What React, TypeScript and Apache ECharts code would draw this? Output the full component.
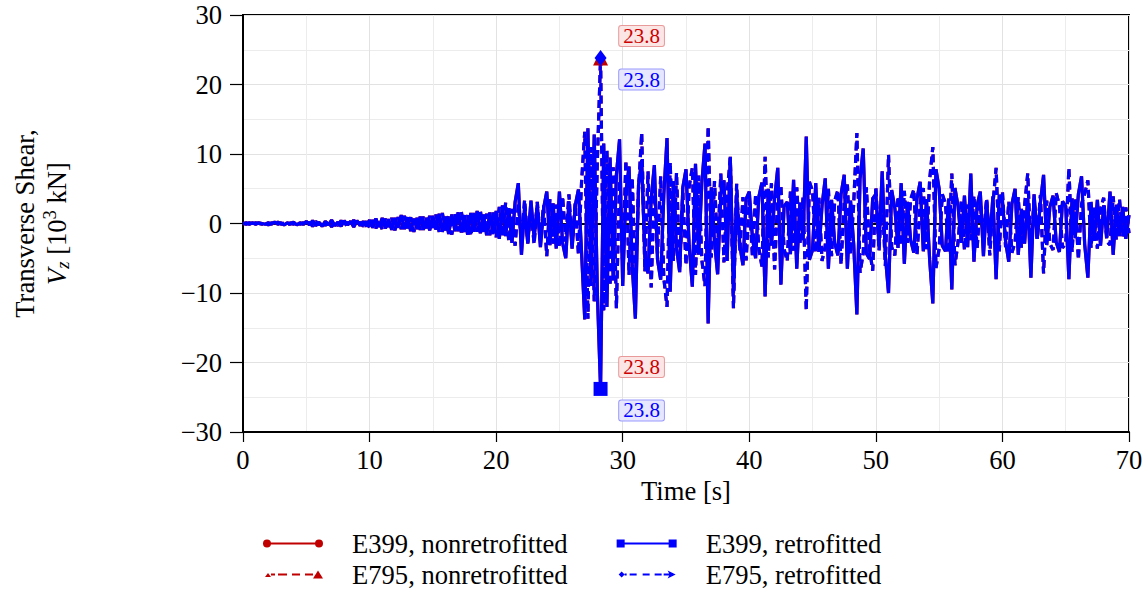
import React, { useEffect, useRef } from "react";
import * as echarts from "echarts";

const FONT = '"Liberation Serif", "Times New Roman", Times, serif';
const RED = "#c00000";
const BLUE = "#0000ff";

// sampling interval of the records [s]
const timeStep = 0.25;

// E399, retrofitted: transverse shear Vz [10^3 kN], one value per timeStep, 0 s .. 70 s
const e399RetValues: number[] = [
  0, 0.1, -0.1, 0.1, -0.1, 0.1, 0, -0.1, 0.1, -0.1, 0.2, -0.1, 0.1, -0.2, 0.1, -0.1, 0.2, -0.2, 0.1, -0.1,
  0.3, -0.2, 0.4, -0.3, 0.2, -0.4, 0.3, -0.2, 0.5, -0.3, 0.2, -0.4, 0.4, -0.2, 0.3, -0.5, 0.4, -0.3, 0.3, -0.4,
  0.5, -0.6, 0.7, -0.5, 0.8, -0.7, 0.6, -0.9, 0.8, -0.6, 1.2, -0.8, 0.9, -1.1, 0.7, -0.8, 1.0, -0.9, 0.8, -1.0,
  1.1, -0.9, 1.4, -1.2, 1.0, -1.5, 1.3, -1.1, 1.6, -1.3, 1.2, -1.6, 1.5, -1.2, 1.8, -1.4, 1.3, -1.7, 1.6, -1.5,
  1.8, -2.2, 2.6, -1.8, 2.2, -2.8, 3.1, 5.8, -4.5, 2.4, -2.9, 3.3, -2.1, 2.7, -3.4, 2.2, 4.6, -3.1, 2.9, -3.6,
  4.6, -2.8, -5.0, 3.2, -3.6, 2.6, 4.9, -4.2, -13.8, 13.7, -9.0, 12.8, -10.2, -23.8, 11.5, -12.0, 9.5, -8.2, 7.0, 12.1,
  -9.0, 4.5, 8.2, -6.0, -13.7, 5.5, 9.1, -4.8, -7.2, 3.6, 8.4, -5.2, -8.1, 4.2, 12.3, -9.8, 6.1, -3.5, -7.0, 5.2,
  7.8, -3.2, -9.1, 8.6, -4.5, 5.8, 11.5, -14.4, 5.2, -2.6, -7.3, 4.1, 6.2, -5.4, 9.6, -10.0, 4.3, -3.1, -6.0, 3.5,
  4.6, -2.1, -5.0, 3.8, 5.9, -10.5, 5.0, -3.2, 3.6, 8.0, -8.8, 2.5, 3.1, -4.4, 6.3, -6.5, 3.0, -2.4, 12.5, -5.2,
  -3.8, 5.8, -4.1, 2.6, 6.5, -6.5, 3.4, -2.8, -4.6, 4.2, 7.0, -6.5, 3.3, -3.0, -13.1, 6.4, 10.8, -4.3, -5.1, 3.6,
  4.2, -3.1, 7.5, -4.6, -10.0, 4.8, 2.2, -3.5, 5.8, -5.8, 3.1, -2.4, -4.2, 3.6, 6.0, -4.0, 3.5, -5.2, -11.5, 7.8,
  5.0, -3.2, -4.0, 3.6, -9.5, 5.1, 2.4, -2.8, 4.0, -3.4, 7.2, -5.5, 2.6, 4.6, -4.7, 3.2, -2.5, 3.9, -8.0, 4.1,
  3.3, -2.6, -5.5, 2.8, 5.0, -4.5, 2.1, -2.9, 3.6, -7.8, 4.2, -2.2, 3.0, 7.0, -3.1, 2.4, 4.0, -2.7, -4.1, 3.2,
  2.5, -8.0, 3.6, -2.1, 4.2, 6.8, -3.0, -7.8, 3.1, -2.5, 3.4, -3.2, 2.6, -2.0, 4.6, -4.5, 2.7, -1.8, 2.4, -2.2, 1.2,
];

// E795, retrofitted
const e795RetValues: number[] = [
  0, -0.1, 0.1, -0.1, 0.1, 0, -0.1, 0.1, -0.2, 0.1, -0.1, 0.2, -0.1, 0.1, -0.2, 0.1, -0.1, 0.2, -0.1, 0.1,
  -0.3, 0.2, -0.4, 0.3, -0.2, 0.4, -0.3, 0.3, -0.5, 0.2, -0.3, 0.4, -0.3, 0.2, -0.4, 0.5, -0.3, 0.2, -0.4, 0.3,
  -0.6, 0.5, -0.7, 0.6, -0.9, 0.7, -0.5, 0.8, -1.0, 0.9, -0.8, 1.1, -0.7, 0.9, -1.2, 0.8, -0.9, 1.0, -0.7, 1.1,
  -1.0, 1.3, -1.2, 1.5, -1.0, 1.2, -1.6, 1.4, -1.1, 1.7, -1.3, 1.2, -1.8, 1.5, -1.2, 1.9, -1.5, 1.4, -1.7, 1.6,
  -2.0, 2.4, -1.9, 3.0, -2.6, 2.1, -3.2, 2.8, -2.3, 3.4, -2.7, 2.2, -3.0, 3.1, -2.4, 2.6, -4.7, 3.5, -2.9, 2.7,
  -3.4, 3.9, -2.6, 4.2, -3.1, 2.9, -4.4, 6.0, 13.2, -13.7, 11.0, -11.2, 9.3, 23.8, -12.5, 10.5, -9.0, 8.1, -12.2, 6.2,
  -5.8, 9.1, -7.4, 6.6, -8.3, 4.8, 13.0, -6.9, 7.5, -9.2, 5.1, -4.3, 6.8, -7.9, -12.0, 8.8, -5.4, 7.3, -6.2, 4.4,
  -6.0, 5.3, 8.0, -7.4, 6.9, -5.2, -9.0, 14.0, -4.9, 6.1, -3.8, 7.2, -5.6, 4.4, 9.4, -12.2, 5.7, -4.0, 3.8, -5.3,
  3.4, -4.8, 4.2, -3.5, -6.2, 9.6, -4.9, 5.8, -6.6, 4.1, 5.3, -3.7, -5.4, 4.6, -3.9, 5.2, -3.0, 3.8, -12.5, 6.0,
  4.6, -4.2, 3.7, -5.4, -3.2, 5.0, -4.7, 3.3, 4.8, -5.9, 3.1, 5.6, -4.4, 2.9, 13.0, -7.1, -4.3, 5.2, -3.6, -6.8,
  5.3, -3.9, 4.1, -6.1, 9.9, -3.4, -4.6, 3.9, -3.2, 4.7, -2.8, 3.5, 4.9, -4.5, 2.7, 5.1, -3.7, 6.3, 11.0, -6.4,
  -3.6, 4.2, 2.9, -4.3, 7.2, -6.0, -2.6, 3.3, -3.8, 2.7, -2.4, 4.0, -3.6, 3.1, -2.2, 3.6, -4.6, 2.8, 8.0, -4.0,
  4.6, -3.4, 3.1, -4.2, -2.7, 3.8, -3.5, 2.6, 7.2, -4.5, 3.4, -2.3, 4.1, -7.2, 3.3, -2.9, -3.8, 4.4, 2.6, -3.5,
  -2.9, 8.0, -4.1, 3.6, -5.2, 2.8, 4.3, 6.2, -3.5, 2.4, -3.6, 2.1, 3.7, -2.6, -3.1, 3.9, -2.4, 3.5, -1.9, 2.3, -1.4,
];

// the nonretrofitted records lie under the retrofitted ones in the picture
const e399NonValues: number[] = e399RetValues;
const e795NonValues: number[] = e795RetValues;

const seriesNames = [
  "E399, nonretrofitted",
  "E795, nonretrofitted",
  "E399, retrofitted",
  "E795, retrofitted",
];

function toPairs(values: number[]): [number, number][] {
  return values.map((v, i) => [i * timeStep, v]);
}

function peakOf(values: number[]): [number, number] {
  let k = 0;
  values.forEach((v, i) => {
    if (Math.abs(v) > Math.abs(values[k])) k = i;
  });
  return [k * timeStep, values[k]];
}

const ICON_PAD = " M0,0L0.01,0Z M84,12L83.99,12Z";
const icons = [
  "path://M0,6A4,4,0,1,1,8,6A4,4,0,1,1,0,6Z M52,6A4,4,0,1,1,60,6A4,4,0,1,1,52,6Z M4,5H56V7H4Z" + ICON_PAD,
  "path://M2,8.5L5,4.5L8,8.5Z M8,5H12V7H8Z M15,5H24V7H15Z M29,5H37V7H29Z M42,5H50V7H42Z M50,10L55,2L60,10Z" + ICON_PAD,
  "path://M0,2H8V10H0Z M52,2H60V10H52Z M8,5H52V7H8Z" + ICON_PAD,
  "path://M2,6L5,3L8,6L5,9Z M8,5H10V7H8Z M13,5H20V7H13Z M26,5H33V7H26Z M38,5H45V7H38Z M47,5H53V7H47Z M51,2L59,6L51,10L53,6Z" + ICON_PAD,
];

const specs = [
  { values: e399NonValues, color: RED, dash: "solid" as any, symbol: "circle", size: 11 as any, dy: -22, text: "#cc0000", bg: "#fbe5e5", border: "#e89a9a" },
  { values: e795NonValues, color: RED, dash: [8, 4.5] as any, symbol: "triangle", size: 15 as any, dy: -22, text: "#cc0000", bg: "#fbe5e5", border: "#e89a9a" },
  { values: e399RetValues, color: BLUE, dash: "solid" as any, symbol: "rect", size: 14 as any, dy: 21.5, text: "#0000ff", bg: "#e6e6ff", border: "#9a9aff" },
  { values: e795RetValues, color: BLUE, dash: [8, 4.5] as any, symbol: "diamond", size: [12, 16] as any, dy: 21.5, text: "#0000ff", bg: "#e6e6ff", border: "#9a9aff" },
];

const minusFmt = (v: number) => (v < 0 ? "\u2212" + Math.abs(v) : String(v));

export default function App() {
  const ref = useRef<HTMLDivElement>(null);
  useEffect(() => {
    document.body.style.margin = "0";
    if (!ref.current) return;
    const chart = echarts.init(ref.current, null, { renderer: "svg" });

    const series = specs.map((s, idx) => {
      const peak = peakOf(s.values);
      const out: any = {
        name: seriesNames[idx],
        type: "line",
        data: toPairs(s.values),
        showSymbol: false,
        silent: true,
        color: s.color,
        itemStyle: { color: s.color },
        lineStyle: { color: s.color, width: 3.2, type: s.dash },
        emphasis: { disabled: true },
        z: 2,
        markPoint: {
          silent: true,
          animation: false,
          symbol: s.symbol,
          symbolSize: s.size,
          itemStyle: { color: s.color },
          label: {
            show: true,
            position: "inside",
            offset: [41, s.dy],
            formatter: (p: any) => Math.abs(p.value).toFixed(1),
            fontFamily: "Liberation Serif",
            fontSize: 21,
            lineHeight: 18,
            color: s.text,
            backgroundColor: s.bg,
            borderColor: s.border,
            borderWidth: 1,
            borderRadius: 2,
            padding: [1, 4],
          },
          data: [{ coord: peak, value: peak[1] }],
        },
      };
      if (idx === 0) {
        out.markLine = {
          silent: true,
          animation: false,
          z: 1,
          symbol: ["none", "none"],
          label: { show: false },
          lineStyle: { color: "#000", width: 2, type: "solid" },
          data: [{ yAxis: 0 }],
        };
      }
      return out;
    });

    const legendBase = {
      left: 263,
      orient: "horizontal",
      itemWidth: 84,
      itemHeight: 12,
      itemGap: 49,
      selectedMode: false,
      itemStyle: { borderWidth: 0 },
      textStyle: { fontFamily: FONT, fontSize: 26.6, color: "#000", padding: 0 },
      padding: 0,
    };

    chart.setOption({
      animation: false,
      backgroundColor: "#fff",
      grid: {
        left: 243,
        right: 19,
        top: 15,
        bottom: 160,
        show: true,
        borderColor: "#000",
        borderWidth: 2,
        backgroundColor: "transparent",
      },
      legend: [
        { ...legendBase, top: 530, data: [{ name: seriesNames[0], icon: icons[0] }, { name: seriesNames[2], icon: icons[2] }] },
        { ...legendBase, top: 561, data: [{ name: seriesNames[1], icon: icons[1] }, { name: seriesNames[3], icon: icons[3] }] },
      ],
      xAxis: {
        type: "value",
        min: 0,
        max: 70,
        interval: 10,
        name: "Time [s]",
        nameLocation: "middle",
        nameGap: 41,
        nameTextStyle: { fontFamily: FONT, fontSize: 26.6, color: "#000" },
        axisLine: { show: true, onZero: false, lineStyle: { color: "#000", width: 2 } },
        axisTick: { show: true, length: 10, lineStyle: { color: "#000", width: 1.2 } },
        axisLabel: { fontFamily: FONT, fontSize: 26.6, color: "#000", margin: 14, formatter: minusFmt },
        splitLine: { show: true, lineStyle: { color: "#e2e2e2", width: 1 } },
        minorTick: { show: false, splitNumber: 2 },
        minorSplitLine: { show: true, lineStyle: { color: "#ececec", width: 1 } },
      },
      yAxis: {
        type: "value",
        min: -30,
        max: 30,
        interval: 10,
        name: "Transverse Shear,\n{it|V}{sub|z} [10{sup|3} kN]",
        nameLocation: "middle",
        nameRotate: 90,
        nameGap: 170,
        nameTextStyle: {
          fontFamily: FONT,
          fontSize: 26.6,
          color: "#000",
          lineHeight: 32,
          rich: {
            it: { fontFamily: FONT, fontSize: 26.6, fontStyle: "italic", color: "#000" },
            sub: { fontFamily: FONT, fontSize: 18.6, fontStyle: "italic", color: "#000", padding: [10, 0, 0, 0] },
            sup: { fontFamily: FONT, fontSize: 18.6, color: "#000", padding: [0, 0, 16, 0] },
          },
        },
        axisLine: { show: true, onZero: false, lineStyle: { color: "#000", width: 2 } },
        axisTick: { show: true, length: 13, lineStyle: { color: "#000", width: 1.2 } },
        axisLabel: { fontFamily: FONT, fontSize: 26.6, color: "#000", margin: 21, formatter: minusFmt },
        splitLine: { show: true, lineStyle: { color: "#e2e2e2", width: 1 } },
        minorTick: { show: false, splitNumber: 2 },
        minorSplitLine: { show: true, lineStyle: { color: "#ececec", width: 1 } },
      },
      series,
    });

    return () => chart.dispose();
  }, []);

  return <div ref={ref} style={{ width: 1148, height: 592 }} />;
}
